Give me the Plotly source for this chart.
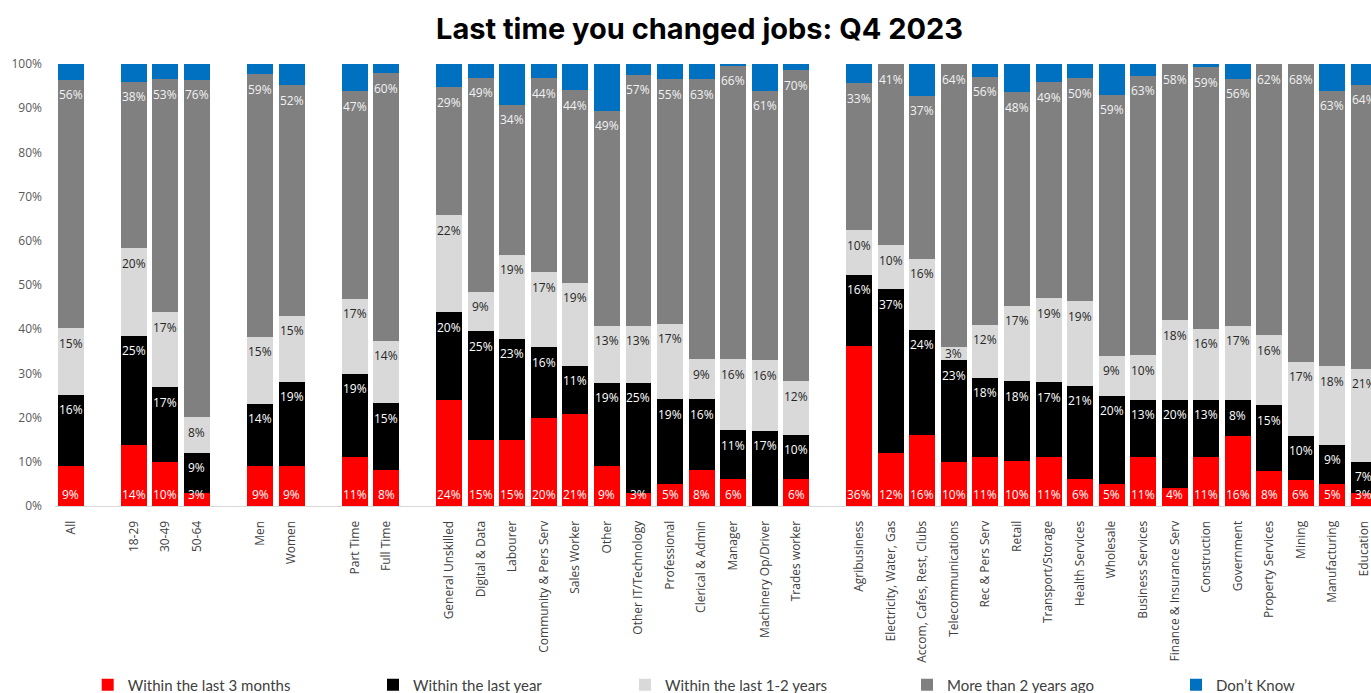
import plotly.graph_objects as go

# Category groups; each group is separated from the next by one empty slot
groups = [
    ["All"],
    ["18-29", "30-49", "50-64"],
    ["Men", "Women"],
    ["Part Time", "Full Time"],
    ["General Unskilled", "Digital & Data", "Labourer", "Community & Pers Serv",
     "Sales Worker", "Other", "Other IT/Technology", "Professional",
     "Clerical & Admin", "Manager", "Machinery Op/Driver", "Trades worker"],
    ["Agribusiness", "Electricity, Water, Gas", "Accom, Cafes, Rest, Clubs",
     "Telecommunications", "Rec & Pers Serv", "Retail", "Transport/Storage",
     "Health Services", "Wholesale", "Business Services", "Finance & Insurance Serv",
     "Construction", "Government", "Property Services", "Mining", "Manufacturing",
     "Education"],
]

# Share of respondents (%) per category, in the order of the groups above
within_3_months = [9, 14, 10, 3, 9, 9, 11, 8,
                   24, 15, 15, 20, 21, 9, 3, 5, 8, 6, 0, 6,
                   36, 12, 16, 10, 11, 10, 11, 6, 5, 11, 4, 11, 16, 8, 6, 5, 3]
within_last_year = [16, 25, 17, 9, 14, 19, 19, 15,
                    20, 25, 23, 16, 11, 19, 25, 19, 16, 11, 17, 10,
                    16, 37, 24, 23, 18, 18, 17, 21, 20, 13, 20, 13, 8, 15, 10, 9, 7]
within_1_2_years = [15, 20, 17, 8, 15, 15, 17, 14,
                    22, 9, 19, 17, 19, 13, 13, 17, 9, 16, 16, 12,
                    10, 10, 16, 3, 12, 17, 19, 19, 9, 10, 18, 16, 17, 16, 17, 18, 21]
more_than_2_years = [56, 38, 53, 76, 59, 52, 47, 60,
                     29, 49, 34, 44, 44, 49, 57, 55, 63, 66, 61, 70,
                     33, 41, 37, 64, 56, 48, 49, 50, 59, 63, 58, 59, 56, 62, 68, 63, 64]
dont_know = [3.5, 4.1, 3.5, 3.5, 2.3, 4.8, 6.2, 2.1,
             5.3, 3.2, 9.3, 3.2, 6.0, 10.6, 2.4, 3.4, 3.4, 0.3, 6.0, 1.4,
             4.3, 0, 7.2, 0, 2.9, 6.3, 4.1, 3.2, 7.0, 2.7, 0, 0.7, 3.4, 0, 0, 6.1, 4.7]

series = [
    ("Within the last 3 months", within_3_months, "#FF0000", "#FFFFFF"),
    ("Within the last year", within_last_year, "#000000", "#FFFFFF"),
    ("Within the last 1-2 years", within_1_2_years, "#D9D9D9", "#262626"),
    ("More than 2 years ago", more_than_2_years, "#808080", "#F2F2F2"),
    ("Don\u2019t Know", dont_know, "#0070C0", None),
]

# Slot positions along the x axis, leaving a blank slot between groups
categories, xpos = [], []
slot = 0
for g in groups:
    for name in g:
        categories.append(name)
        xpos.append(slot)
        slot += 1
    slot += 1

W, H = 1371, 693
M_L, M_R, M_T, M_B = 55, 0, 64, 187
px_per_pct = (H - M_T - M_B) / 100.0

fig = go.Figure()
legend_ids = ["legend", "legend2", "legend3", "legend4", "legend5"]
for (name, vals, color, _), lid in zip(series, legend_ids):
    fig.add_trace(go.Bar(
        x=xpos, y=vals, name=name, width=0.824,
        marker=dict(color=color, line=dict(width=0)),
        legend=lid,
        customdata=categories,
        hovertemplate="%{customdata}<br>" + name + ": %{y}%<extra></extra>",
    ))

# Data labels: first series sits at the bar base, the others at the inside end
totals = [sum(s[1][i] for s in series) for i in range(len(categories))]
annotations = []
label_font = "Open Sans"
for i, x in enumerate(xpos):
    cum = 0.0
    for k, (name, vals, color, tcolor) in enumerate(series):
        v = vals[i]
        seg = v / totals[i] * 100.0
        cum += seg
        if tcolor is None or v <= 0:
            continue
        if k == 0:
            annotations.append(dict(
                x=x, y=0, xref="x", yref="y", text=f"{v}%", showarrow=False,
                yshift=12, yanchor="middle",
                font=dict(family=label_font, size=12, color=tcolor)))
        else:
            shift = min(15.0, seg * px_per_pct / 2.0)
            annotations.append(dict(
                x=x, y=cum, xref="x", yref="y", text=f"{v}%", showarrow=False,
                yshift=-shift, yanchor="middle",
                font=dict(family=label_font, size=12, color=tcolor)))

# Legends placed individually along the bottom
legend_sym_x = [114.7, 400, 652, 934, 1203]
legend_layout = {}
for lid, sx in zip(legend_ids, legend_sym_x):
    legend_layout[lid] = dict(
        orientation="h", xref="container", yref="container",
        x=(sx - 27) / W, y=1 - 685 / H, xanchor="left", yanchor="middle",
        font=dict(family="Lato", size=15, color="#404040"),
        bgcolor="rgba(0,0,0,0)", borderwidth=0,
    )

fig.update_layout(
    width=W, height=H,
    margin=dict(l=M_L, r=M_R, t=M_T, b=M_B, pad=0),
    barmode="stack", barnorm="percent",
    paper_bgcolor="white", plot_bgcolor="white",
    title=dict(
        text="Last time you changed jobs: Q4 2023",
        font=dict(family="Inter", size=29, color="#000000", weight=700),
        x=699.5 / W, xref="container", xanchor="center",
        y=1 - 29 / H, yref="container", yanchor="middle",
    ),
    showlegend=True,
    annotations=annotations,
    **legend_layout,
)

fig.update_xaxes(
    range=[-0.5, (W - M_L - M_R) / 31.54 - 0.5],
    tickmode="array", tickvals=xpos, ticktext=categories,
    tickangle=-90, tickfont=dict(family="Open Sans", size=12, color="#404040"),
    ticklabeloverflow="allow",
    showline=True, linecolor="#D9D9D9", linewidth=1,
    showgrid=False, zeroline=False, ticks="", ticklabelstandoff=9,
)
fig.update_yaxes(
    range=[0, 100], tickmode="array", tickvals=list(range(0, 101, 10)),
    ticktext=[f"{v}%" for v in range(0, 101, 10)],
    tickfont=dict(family="Open Sans", size=12, color="#595959"),
    showgrid=False, zeroline=False, showline=False, ticks="",
    ticklabelstandoff=12,
)

fig.write_html("out.html")
